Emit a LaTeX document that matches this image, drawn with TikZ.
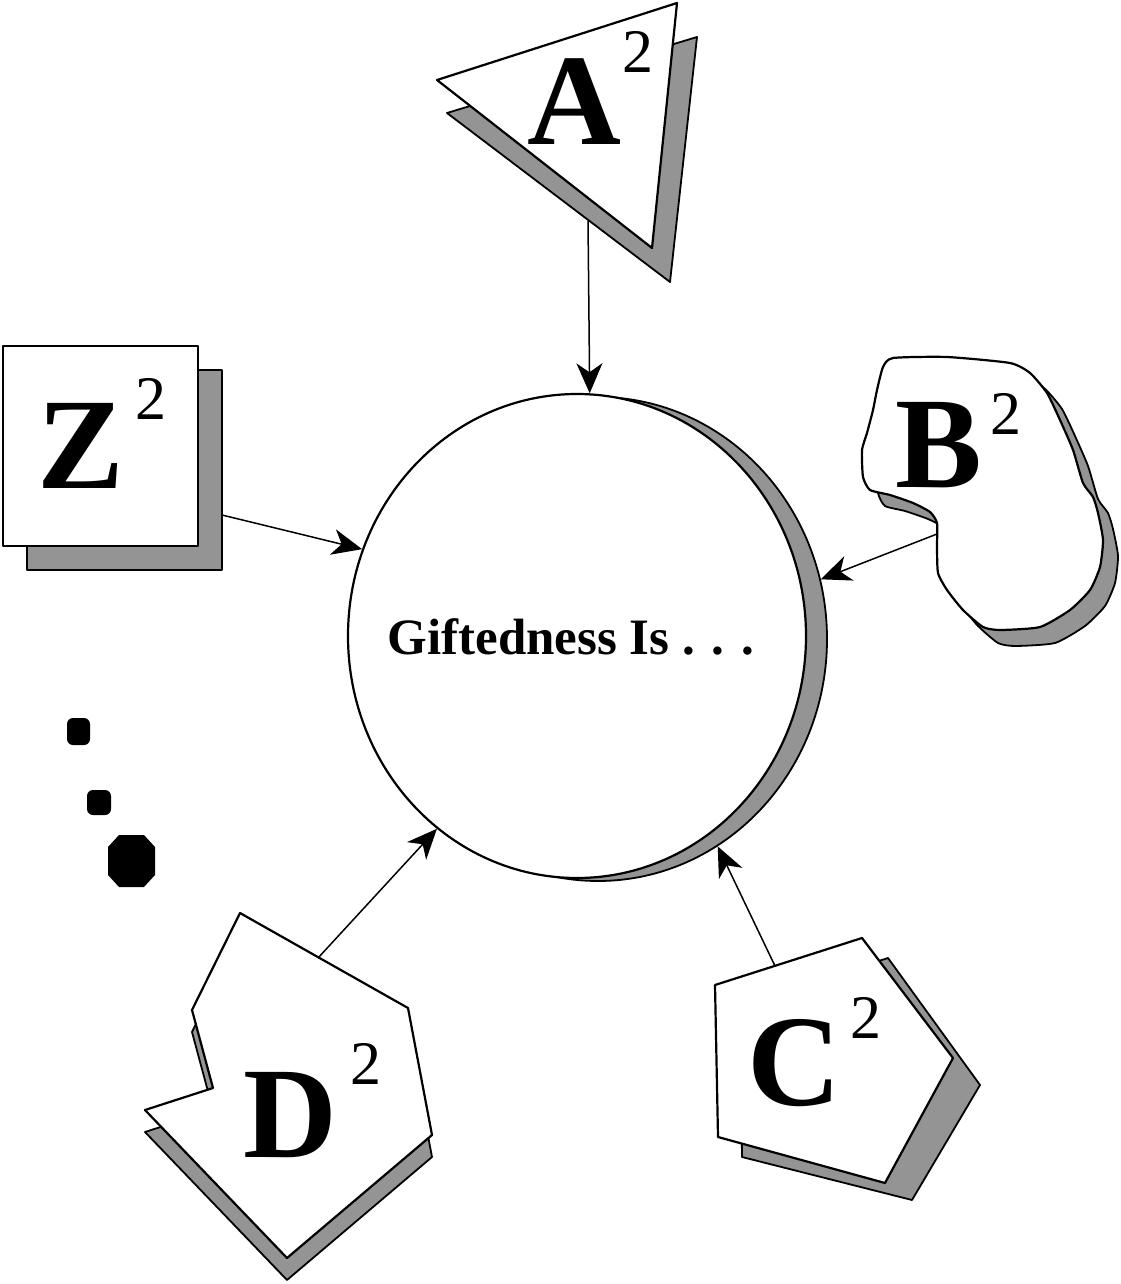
\documentclass[tikz,border=0pt]{standalone}
\usepackage{fontspec}
\setmainfont{Liberation Serif}
\usetikzlibrary{arrows.meta,shapes.geometric}
\begin{document}
\begin{tikzpicture}[x=1pt,y=-1pt,
  outline/.style={draw=black, line width=2.2pt, fill=white, line join=round},
  shadowfill/.style={draw=black, line width=1.8pt, fill=black!42, line join=round},
  conn/.style={line width=1.5pt, -{Stealth[length=30pt,width=26pt,inset=9pt]}},
  big/.style={inner sep=0pt, anchor=base west, font=\fontsize{130}{130}\selectfont\bfseries},
  sup/.style={inner sep=0pt, anchor=base west, font=\fontsize{62}{62}\selectfont},
  dot/.style={fill=black},
]
\useasboundingbox (0,0) rectangle (1120,1284);

% central circle with shadow
\node[ellipse, shadowfill, minimum width=458pt, minimum height=484pt, inner sep=0pt] (circsh) at (598,639) {};
\node[ellipse, outline, minimum width=458pt, minimum height=484pt, inner sep=0pt] (circ) at (577,636) {};
\node[inner sep=0pt, anchor=base, font=\fontsize{51}{51}\selectfont\bfseries] (gtext) at (571,654) {Giftedness Is . . .};

% A triangle
\filldraw[shadowfill] (447,113) -- (697,37) -- (670,282) -- cycle;
\filldraw[outline] (437,80) -- (677,3) -- (652,248) -- cycle;
\node[big] (Alet) at (527,145) {A};
\node[sup] (Asup) at (622,73) {2};

% Z square
\filldraw[shadowfill] (27,370) rectangle (222,570);
\filldraw[outline] (3,346) rectangle (198,546);
\node[big] (Zlet) at (37,488) {Z};
\node[sup] (Zsup) at (135,419) {2};

% B blob
\filldraw[shadowfill, shift={(15pt,-16pt)}] plot[smooth cycle, tension=0.35] coordinates {
 (893,358) (947,357) (1010,363) (1030,373) (1047,393) (1060,420) (1073,450)
 (1083,483) (1093,497) (1098,513) (1103,540) (1100,567) (1090,590) (1070,610)
 (1040,627) (1000,630) (983,627) (963,610) (947,590) (938,573) (937,547)
 (937,523) (930,512) (913,503) (890,495) (870,490) (863,477) (862,450)
 (867,433) (873,410) (877,390) (883,367)};
\filldraw[outline] plot[smooth cycle, tension=0.35] coordinates {
 (893,358) (947,357) (1010,363) (1030,373) (1047,393) (1060,420) (1073,450)
 (1083,483) (1093,497) (1098,513) (1103,540) (1100,567) (1090,590) (1070,610)
 (1040,627) (1000,630) (983,627) (963,610) (947,590) (938,573) (937,547)
 (937,523) (930,512) (913,503) (890,495) (870,490) (863,477) (862,450)
 (867,433) (873,410) (877,390) (883,367)};
\node[big] (Blet) at (895,487) {B};
\node[sup] (Bsup) at (990,434) {2};

% C pentagon
\filldraw[shadowfill] (740,1005) -- (888,958) -- (980,1085) -- (912,1200) -- (742,1157) -- cycle;
\filldraw[outline] (715,985) -- (862,938) -- (953,1058) -- (885,1183) -- (718,1137) -- cycle;
\node[big] (Clet) at (747,1105) {C};
\node[sup] (Csup) at (850,1038) {2};

% D shape
\filldraw[shadowfill] (240,935) -- (408,1030) -- (432,1157) -- (287,1280) -- (145,1132) -- (213,1110) -- (192,1032) -- cycle;
\filldraw[outline] (240,913) -- (408,1008) -- (432,1135) -- (287,1258) -- (145,1110) -- (213,1088) -- (192,1010) -- cycle;
\node[big] (Dlet) at (243,1157) {D};
\node[sup] (Dsup) at (350,1084) {2};

% dots
\fill[dot, rounded corners=6pt] (67,718) rectangle (90,745);
\fill[dot, rounded corners=6pt] (87,790) rectangle (111,815);
\fill[dot] (119,835) -- (144,835) -- (155,847) -- (155,875) -- (144,887) -- (119,887) -- (108,875) -- (108,847) -- cycle;

% connectors
\coordinate (Aout) at (588,221);
\coordinate (Zout) at (222,515);
\coordinate (Bout) at (937,534);
\coordinate (Cout) at (775,966);
\coordinate (Dout) at (318,958);
\draw[conn] (Aout) -- (circ.87.4);
\draw[conn] (Zout) -- (circ.158.5);
\draw[conn] (Bout) -- (circsh.15);
\draw[conn] (Cout) -- (circsh.300.7);
\draw[conn] (Dout) -- (circ.234.4);
\end{tikzpicture}
\end{document}
